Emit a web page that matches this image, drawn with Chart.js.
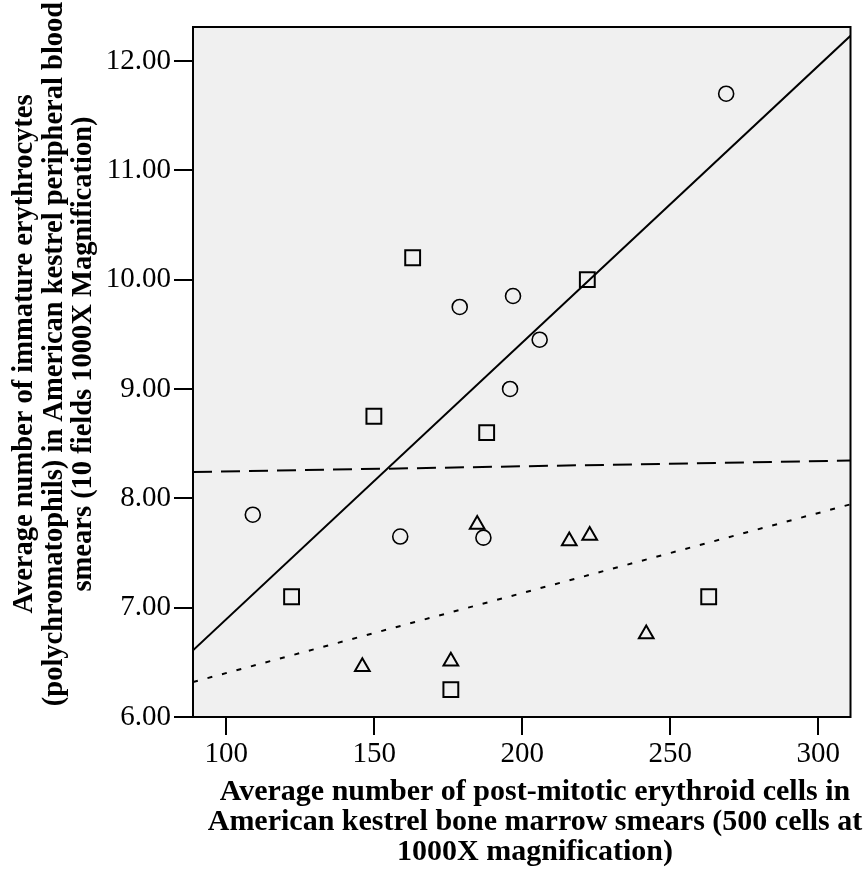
<!DOCTYPE html>
<html>
<head>
<meta charset="utf-8">
<script src="https://cdn.jsdelivr.net/npm/chart.js@4.4.1/dist/chart.umd.min.js"></script>
<style>
  body { margin: 0; background: #fff; }
  #wrap { width: 863px; height: 869px; }
</style>
</head>
<body>
<div id="wrap"><canvas id="myChart" width="863" height="869"></canvas></div>
<script>
// values
const circleX = [109, 158.8, 178.9, 186.9, 195.9, 196.9, 205.9, 268.9];
const circleY = [7.85, 7.65, 9.75, 7.64, 9.0, 9.85, 9.45, 11.7];
const squareX = [122.1, 149.9, 163, 175.9, 188, 222, 263];
const squareY = [7.1, 8.75, 10.2, 6.25, 8.6, 10.0, 7.1];
const triangleX = [146, 175.9, 184.8, 215.9, 222.8, 241.9];
const triangleY = [6.46, 6.51, 7.76, 7.61, 7.66, 6.76];

// fit lines, ends at the axis limits
const fitX = [88.8, 310.9];
const solidFitY = [6.61, 12.23];
const dashedFitY = [8.24, 8.345];
const dottedFitY = [6.32, 7.945];

const xTicks = [100, 150, 200, 250, 300];
const yTicks = [6, 7, 8, 9, 10, 11, 12];

const xTitle = [
  "Average number of post-mitotic erythroid cells in",
  "American kestrel bone marrow smears (500 cells at",
  "1000X magnification)",
];
const yTitle = [
  "Average number of immature erythrocytes",
  "(polychromatophils) in American kestrel peripheral blood",
  "smears (10 fields 1000X Magnification)",
];

const toPoints = (xs, ys) => xs.map((x, i) => ({ x: x, y: ys[i] }));

const plotFrame = {
  id: "plotFrame",
  beforeDraw(chart) {
    const { ctx, chartArea: a } = chart;
    ctx.save();
    ctx.fillStyle = "#f0f0f0";
    ctx.fillRect(a.left, a.top, a.right - a.left, a.bottom - a.top);
    ctx.restore();
  },
  afterDraw(chart) {
    const { ctx, chartArea: a } = chart;
    ctx.save();
    ctx.strokeStyle = "#000";
    ctx.lineWidth = 2;
    ctx.strokeRect(a.left, a.top, a.right - a.left, a.bottom - a.top);
    ctx.restore();
  },
};

// axis titles sit a bit off the plot centre in the original, so drawn here
const axisTitles = {
  id: "axisTitles",
  afterDraw(chart) {
    const { ctx } = chart;
    ctx.save();
    ctx.fillStyle = "#000";
    ctx.textAlign = "center";
    ctx.textBaseline = "middle";
    ctx.font = "bold 30px 'Liberation Serif'";
    xTitle.forEach((t, i) => ctx.fillText(t, 535, 792 + i * 30));
    ctx.translate(25, 354);
    ctx.rotate(-Math.PI / 2);
    ctx.font = "bold 28.5px 'Liberation Serif'";
    yTitle.forEach((t, i) => ctx.fillText(t, 0, i * 29.5));
    ctx.restore();
  },
};

const fitLine = (ys, dash) => ({
  type: "line",
  data: toPoints(fitX, ys),
  borderColor: "#000",
  borderWidth: 2,
  borderDash: dash,
  pointRadius: 0,
  fill: false,
  showLine: true,
});

const marks = (xs, ys, style, r, w) => ({
  data: toPoints(xs, ys),
  pointStyle: style,
  pointRadius: r,
  pointBorderWidth: w,
  borderColor: "#000",
  backgroundColor: "rgba(0,0,0,0)",
  showLine: false,
});

const ctx = document.getElementById("myChart").getContext("2d");
new Chart(ctx, {
  type: "scatter",
  data: {
    datasets: [
      marks(circleX, circleY, "circle", 7.5, 1.6),
      marks(squareX, squareY, "rect", 10.5, 2),
      marks(triangleX, triangleY, "triangle", 8.5, 2),
      fitLine(solidFitY, []),
      fitLine(dashedFitY, [19, 9]),
      fitLine(dottedFitY, [5, 10]),
    ],
  },
  options: {
    responsive: false,
    animation: false,
    layout: { padding: { top: 27, right: 10, left: 0, bottom: 0 } },
    plugins: { legend: { display: false }, tooltip: { enabled: false } },
    scales: {
      x: {
        type: "linear",
        min: 88.8,
        max: 310.9,
        afterBuildTicks: (s) => { s.ticks = xTicks.map((v) => ({ value: v })); },
        afterFit: (s) => { s.height = 152; },
        border: { display: false },
        grid: { drawOnChartArea: false, color: "#000", lineWidth: 2, tickLength: 18 },
        ticks: {
          color: "#000",
          padding: 2,
          font: { family: "'Liberation Serif'", size: 29 },
        },
      },
      y: {
        type: "linear",
        min: 6,
        max: 12.31,
        afterBuildTicks: (s) => { s.ticks = yTicks.map((v) => ({ value: v })); },
        afterFit: (s) => { s.width = 193; },
        border: { display: false },
        grid: { drawOnChartArea: false, color: "#000", lineWidth: 2, tickLength: 19 },
        ticks: {
          color: "#000",
          padding: 3,
          font: { family: "'Liberation Serif'", size: 29 },
          callback: (v) => v.toFixed(2),
        },
      },
    },
  },
  plugins: [plotFrame, axisTitles],
});
</script>
</body>
</html>
